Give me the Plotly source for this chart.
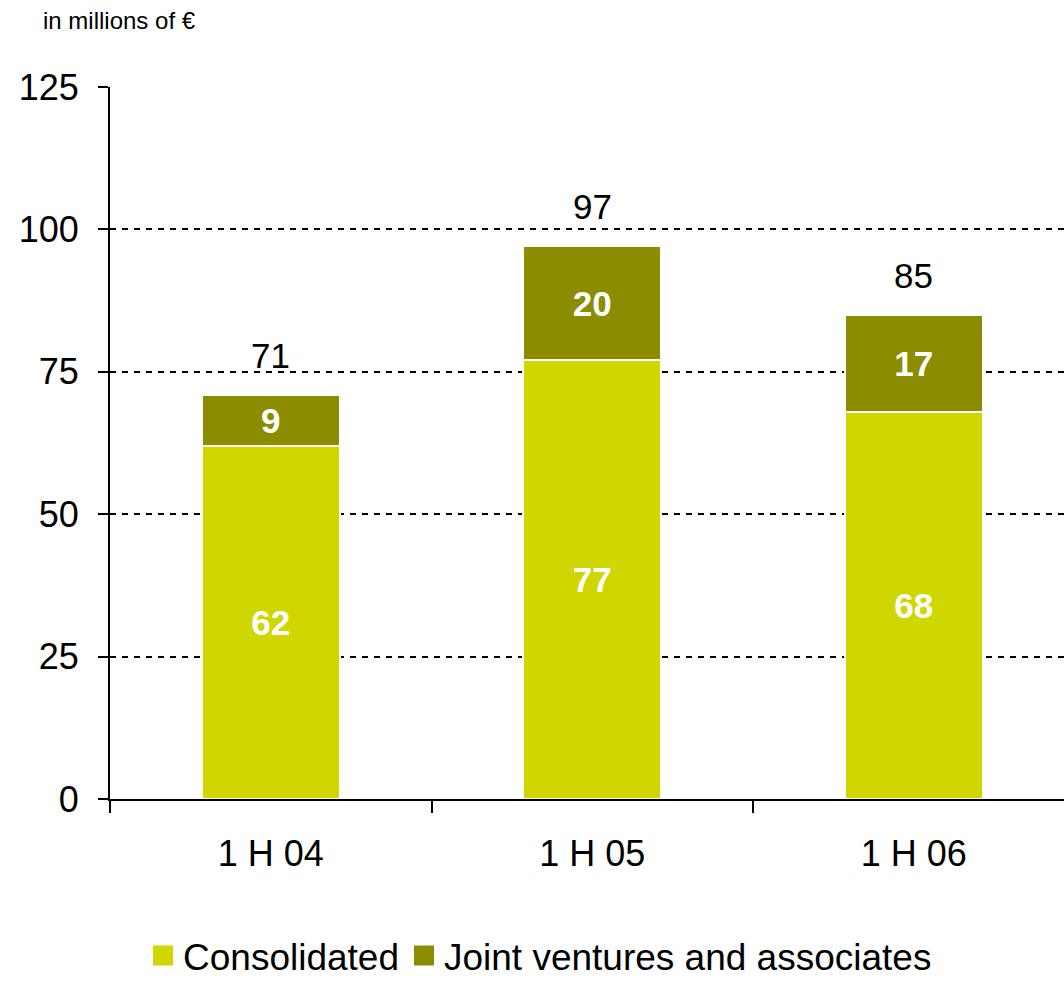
import plotly.graph_objects as go

# Half-year results, in millions of euros
categories = ["1 H 04", "1 H 05", "1 H 06"]
consolidated = [62, 77, 68]
joint_ventures = [9, 20, 17]
totals = [71, 97, 85]

LIME = "#CFD600"
OLIVE = "#8C8C00"
FONT = "Liberation Sans, Arial, sans-serif"

fig = go.Figure()

fig.add_trace(go.Bar(
    x=categories, y=consolidated, name="Consolidated",
    marker=dict(color=LIME, line=dict(color="white", width=2)),
    width=0.43, text=[str(v) for v in consolidated],
    textposition="inside", insidetextanchor="middle",
    textfont=dict(family=FONT, size=35, color="white", weight="bold"),
    showlegend=False, constraintext="none",
))
fig.add_trace(go.Bar(
    x=categories, y=joint_ventures, name="Joint ventures and associates",
    marker=dict(color=OLIVE, line=dict(color="white", width=2)),
    width=0.43, text=[str(v) for v in joint_ventures],
    textposition="inside", insidetextanchor="middle",
    textfont=dict(family=FONT, size=35, color="white", weight="bold"),
    showlegend=False, constraintext="none",
))

# Legend entries with larger square swatches
for name, color in [("Consolidated", LIME), ("Joint ventures and associates", OLIVE)]:
    fig.add_trace(go.Scatter(
        x=[None], y=[None], mode="markers", name=name,
        marker=dict(symbol="square", size=16, color=color,
                    line=dict(color=color, width=4)),
    ))

# Totals above each stacked bar
for cat, tot in zip(categories, totals):
    fig.add_annotation(
        x=cat, y=tot, text=str(tot), showarrow=False,
        yanchor="bottom", yshift=18,
        font=dict(family=FONT, size=35, color="black"),
    )

fig.update_layout(
    width=1064, height=984,
    margin=dict(l=110, r=0, t=87, b=185),
    paper_bgcolor="white", plot_bgcolor="white",
    barmode="stack", bargap=0.57,
    font=dict(family=FONT, color="black"),
    title=dict(
        text="in millions of €", x=43 / 1064, xanchor="left",
        y=1 - 21 / 984, yanchor="middle", xref="container", yref="container",
        font=dict(family=FONT, size=24, color="black"),
    ),
    legend=dict(
        orientation="h", xref="container", yref="container",
        x=540 / 1064, xanchor="center", y=1 - 956 / 984, yanchor="middle",
        font=dict(family=FONT, size=37, color="black"),
        itemsizing="trace", traceorder="normal", tracegroupgap=0,
    ),
)

fig.update_xaxes(
    type="category", range=[-0.5, 2.467],
    showline=True, linecolor="black", linewidth=2,
    ticks="outside", tickson="boundaries", ticklen=12, tickwidth=2,
    tickcolor="black", showgrid=False, ticklabelstandoff=22,
    tickfont=dict(family=FONT, size=36, color="black"),
)
fig.update_yaxes(
    range=[0, 125], tick0=0, dtick=25,
    showline=True, linecolor="black", linewidth=2,
    ticks="outside", ticklen=10, tickwidth=2, tickcolor="black",
    showgrid=True, gridcolor="black", gridwidth=2, griddash="6px,6px",
    zeroline=False, ticklabelstandoff=12,
    tickfont=dict(family=FONT, size=36, color="black"),
)

fig.write_html("out.html")
